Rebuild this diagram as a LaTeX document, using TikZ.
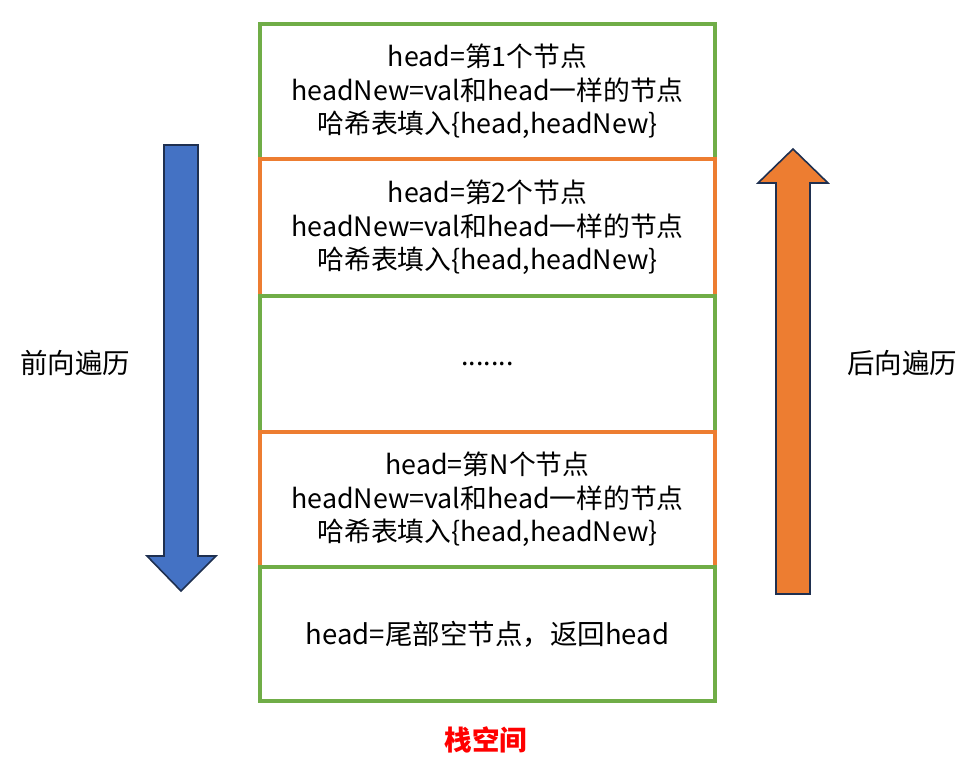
\documentclass[tikz,border=0pt]{standalone}
\usepackage{fontspec}
\setmainfont{Noto Sans CJK SC}
\usetikzlibrary{positioning}
\definecolor{bxgreen}{HTML}{70AD47}
\definecolor{bxorange}{HTML}{ED7D31}
\definecolor{arblue}{HTML}{4472C4}
\definecolor{arline}{HTML}{1F3050}
\definecolor{lblred}{HTML}{FF0000}
\begin{document}
\begin{tikzpicture}[x=1pt,y=-1pt,
  stackbox/.style={draw, line width=4.6pt, fill=white, minimum width=455pt, inner sep=0pt,
    align=center, font=\fontsize{26.8}{33.5}\selectfont},
  greenbox/.style={stackbox, draw=bxgreen},
  orangebox/.style={stackbox, draw=bxorange},
  sidelabel/.style={font=\fontsize{27.5}{30}\selectfont},
  bigarrow/.style={draw=arline, line width=1.6pt, line join=miter}]
\useasboundingbox (0,0) rectangle (969,766);
\node[greenbox, minimum height=135pt] (b1) at (487.5,91.5)
  {head=第1个节点\\headNew=val和head一样的节点\\哈希表填入\{head,headNew\}};
\node[orangebox, minimum height=137pt] (b2) at (487.5,227.5)
  {head=第2个节点\\headNew=val和head一样的节点\\哈希表填入\{head,headNew\}};
\node[greenbox, minimum height=136pt] (b3) at (487.5,364) {.......};
\node[orangebox, minimum height=135pt] (b4) at (487.5,499.5)
  {head=第N个节点\\headNew=val和head一样的节点\\哈希表填入\{head,headNew\}};
\node[greenbox, minimum height=134pt, font=\fontsize{27.5}{33.5}\selectfont] (b5) at (487.5,634) {head=尾部空节点，返回head};
\node[font=\fontsize{27.5}{30}\selectfont\bfseries, text=lblred] (title) at (486,740) {栈空间};
% forward arrow
\draw[bigarrow, fill=arblue] (164,145) -- (198,145) -- (198,556) -- (216,556) -- (181,591)
  -- (147,556) -- (164,556) -- cycle;
% backward arrow
\draw[bigarrow, fill=bxorange] (776,594) -- (810,594) -- (810,183) -- (828,183) -- (793,149)
  -- (758,183) -- (776,183) -- cycle;
\node[sidelabel] (fwd) at (75,363) {前向遍历};
\node[sidelabel] (bwd) at (902,363) {后向遍历};
\end{tikzpicture}
\end{document}
